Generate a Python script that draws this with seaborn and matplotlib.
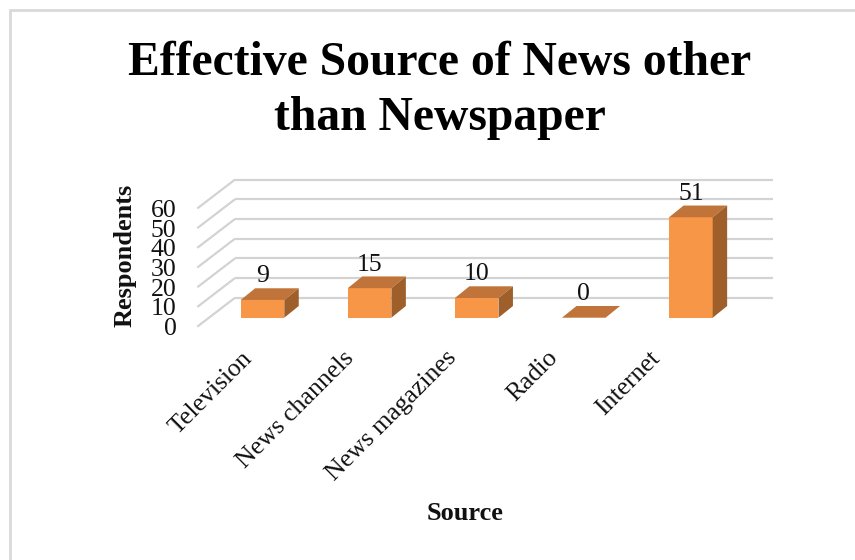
import matplotlib
matplotlib.use("Agg")
import matplotlib.pyplot as plt
from matplotlib.patches import Polygon
from matplotlib.lines import Line2D
import seaborn as sns
import pandas as pd

# Survey data
categories = ["Television", "News channels", "News magazines", "Radio", "Internet"]
respondents = [9, 15, 10, 0, 51]
y_ticks = [0, 10, 20, 30, 40, 50, 60]

# 3-D look: offsets in data units (x in category units, y in value units)
BACK_DX, BACK_DY = 0.244, 10.15     # bar front plane -> back wall
FLOOR_DX, FLOOR_DY = -0.353, -14.7  # back wall -> front edge of the floor
BAR_DX, BAR_DY = 0.135, 5.94        # depth of each column

FRONT = "#F79646"
TOP = "#C0743A"
SIDE = "#9E5F2B"
GRID = "#D3D3D3"
SERIF = "Liberation Serif"

sns.set_theme(style="white")
plt.rcParams["font.family"] = [SERIF, "DejaVu Serif"]

W, H = 855, 560
fig = plt.figure(figsize=(W / 100, H / 100), dpi=100)

# axes placed so that one category = 107.1 px and one unit = 1.97 px
px_left, px_right, px_top, px_bottom = 178, 800, 170, 345
cx0, ppc = 262.5, 107.1
y0, ppu = 317.7, 1.97
ax = fig.add_axes([px_left / W, 1 - px_bottom / H,
                   (px_right - px_left) / W, (px_bottom - px_top) / H])

df = pd.DataFrame({"Source": categories, "Respondents": respondents})
sns.barplot(data=df, x="Source", y="Respondents", color=FRONT, saturation=1,
            width=0.407, ax=ax, zorder=3, linewidth=0)

ax.set_xlim((px_left - cx0) / ppc, (px_right - cx0) / ppc)
ax.set_ylim((y0 - px_bottom) / ppu, (y0 - px_top) / ppu)

# back wall gridlines and their diagonals across the side wall
n = len(categories)
for v in y_ticks:
    xb0 = -0.5 + BACK_DX
    xb1 = n - 0.5 + BACK_DX + 0.02
    yb = v + BACK_DY
    ax.plot([xb0, xb1], [yb, yb], color=GRID, lw=1.6, zorder=1,
            solid_capstyle="butt")
    ax.plot([xb0, xb0 + FLOOR_DX], [yb, yb + FLOOR_DY], color=GRID, lw=1.6,
            zorder=1, solid_capstyle="butt")

# top and side faces for each column, plus value labels
for bar, val in zip(ax.patches, respondents):
    x, w, h = bar.get_x(), bar.get_width(), bar.get_height()
    top = Polygon([(x, h), (x + w, h), (x + w + BAR_DX, h + BAR_DY),
                   (x + BAR_DX, h + BAR_DY)], closed=True, facecolor=TOP,
                  edgecolor="none", zorder=3)
    ax.add_patch(top)
    if h > 0:
        side = Polygon([(x + w, 0), (x + w + BAR_DX, BAR_DY),
                        (x + w + BAR_DX, h + BAR_DY), (x + w, h)], closed=True,
                       facecolor=SIDE, edgecolor="none", zorder=3)
        ax.add_patch(side)
    ax.text(x + w / 2, h + BAR_DY + 3.0, f"{val}", ha="center", va="baseline",
            fontsize=18.5, color="#111111", zorder=4)

# y tick labels sit at the front ends of the diagonals
ax.set_yticks([v + BACK_DY + FLOOR_DY for v in y_ticks])
ax.set_yticklabels([str(v) for v in y_ticks], fontsize=18.5, color="#111111")

# category labels along the front of the floor
label_pos = [-0.125 + 0.95 * i for i in range(n)]
ax.set_xticks(label_pos)
ax.set_xticklabels(categories, rotation=45, ha="right", va="center",
                   rotation_mode="anchor", fontsize=18.5, color="#111111")
ax.tick_params(axis="both", length=0)
ax.tick_params(axis="x", pad=7)
ax.tick_params(axis="y", pad=1)

for s in ax.spines.values():
    s.set_visible(False)
ax.set_facecolor("none")

ax.set_xlabel("Source", fontsize=19, fontweight="bold", color="#111111")
ax.set_ylabel("Respondents", fontsize=19, fontweight="bold", color="#111111")
ax.xaxis.set_label_coords((465 - px_left) / (px_right - px_left),
                          (px_bottom - 514) / (px_bottom - px_top))
ax.yaxis.set_label_coords((125 - px_left) / (px_right - px_left),
                          (px_bottom - 255) / (px_bottom - px_top))
ax.xaxis.label.set_va("center")
ax.yaxis.label.set_va("center")

# two-line title
fig.text(440 / W, 1 - 75 / H, "Effective Source of News other", ha="center",
         va="baseline", fontsize=34.3, fontweight="bold", color="#000000")
fig.text(440 / W, 1 - 130 / H, "than Newspaper", ha="center",
         va="baseline", fontsize=34.3, fontweight="bold", color="#000000")

# chart frame (left and top edges visible)
fig.add_artist(Line2D([10 / W, 10 / W], [0, 1 - 10 / H], transform=fig.transFigure,
                      color="#D9D9D9", lw=2))
fig.add_artist(Line2D([10 / W, 1], [1 - 10 / H, 1 - 10 / H], transform=fig.transFigure,
                      color="#D9D9D9", lw=2))

fig.savefig("out.png", dpi=100, facecolor="white")
